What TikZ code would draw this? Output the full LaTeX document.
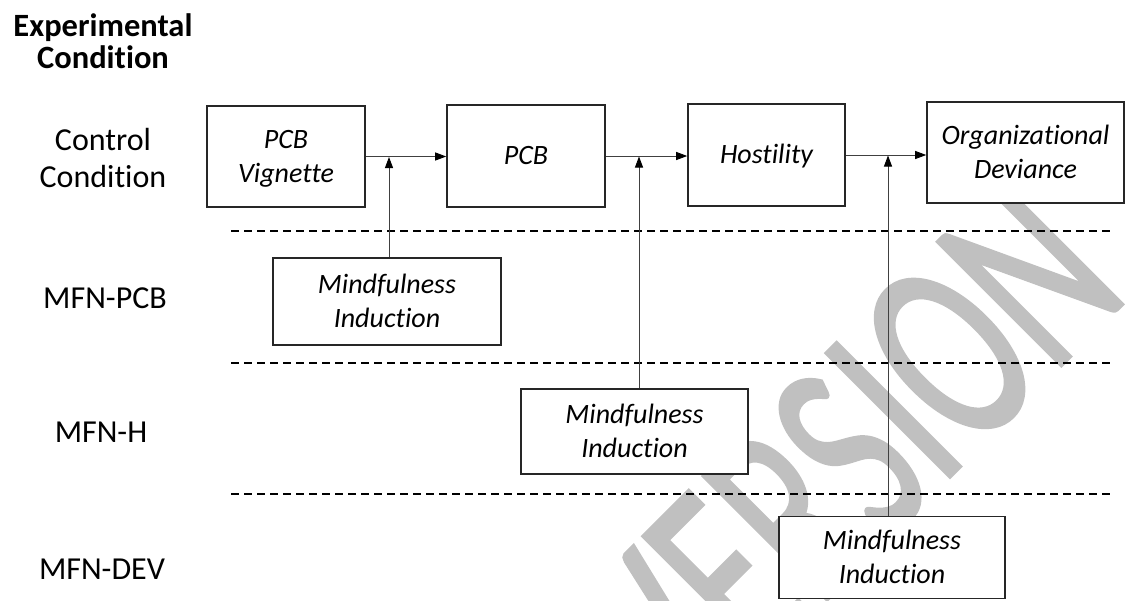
\documentclass[tikz,border=0pt]{standalone}
\usepackage{fontspec}
\setmainfont{Carlito}[Ligatures=NoCommon]
\newfontfamily\wmfont{Carlito}[FakeBold=1.5]
\usepackage{graphicx}
\usetikzlibrary{arrows.meta}
\definecolor{wmcol}{HTML}{C0C0C0}
\definecolor{conncol}{HTML}{404040}
\newcommand\tstrut{\vrule height .76\baselineskip depth .24\baselineskip width 0pt\relax}
\begin{document}
\begin{tikzpicture}[x=1pt,y=-1pt,
  box/.style={draw=black!85, line width=1.6pt, fill=white, align=center, inner sep=0pt,
    font=\fontsize{28}{34}\selectfont\itshape},
  rowlab/.style={align=center, inner sep=0pt, font=\fontsize{32}{37}\selectfont},
  connline/.style={draw=conncol, line width=0.9pt},
  arr/.style={connline, -{Triangle[length=11pt,width=8pt,black]}},
  dashsep/.style={draw=black, line width=1.4pt, dash pattern=on 8pt off 5pt}]
\useasboundingbox (0,0) rectangle (1131,600);
\clip (0,0) rectangle (1131,600);
% watermark
\node[text=wmcol, rotate=45, inner sep=0pt] (wmk) at (848,455)
  {\scalebox{0.64}[1]{\wmfont\fontsize{272}{272}\selectfont VERSION}};
% separators
\draw[dashsep] (231,231) -- (1110,231);
\draw[dashsep] (231,363) -- (1110,363);
\draw[dashsep] (231,494) -- (1110,494);
% row labels
\node[rowlab, font=\fontsize{32.5}{31.7}\selectfont\bfseries] (title) at (103,41) {Experimental\\Condition};
\node[rowlab] (ctrl) at (103,158.3) {Control\\Condition};
\node[rowlab] (mfnpcb) at (105,298) {MFN-PCB};
\node[rowlab] (mfnh) at (101,432) {MFN-H};
\node[rowlab] (mfndev) at (102,569) {MFN-DEV};
% boxes
\node[box, minimum width=158pt, minimum height=101pt] (vig) at (286,156.5) {\tstrut PCB\\Vignette\tstrut};
\node[box, minimum width=158pt, minimum height=102pt] (pcb) at (526,156) {\tstrut PCB\tstrut};
\node[box, minimum width=157pt, minimum height=102pt] (host) at (766.5,155) {\tstrut Hostility\tstrut};
\node[box, minimum width=197pt, minimum height=101pt] (dev) at (1025.5,152.5) {\tstrut Organizational\\Deviance\tstrut};
\node[box, minimum width=228pt, minimum height=87pt] (mi1) at (387,301.5) {\tstrut Mindfulness\\Induction\tstrut};
\node[box, minimum width=227pt, minimum height=85pt] (mi2) at (634.5,431.5) {\tstrut Mindfulness\\Induction\tstrut};
\node[box, minimum width=226pt, minimum height=82pt] (mi3) at (892,557.5) {\tstrut Mindfulness\\Induction\tstrut};
% connectors
\draw[arr] (vig.east) -- (vig.east -| pcb.west);
\draw[arr] (pcb.east) -- (pcb.east -| host.west);
\draw[arr] (host.east) -- (host.east -| dev.west);
\coordinate (j1) at (389,156.5);
\coordinate (j2) at (639,156);
\coordinate (j3) at (888,155);
\draw[arr, shorten >=0.5pt] (j1 |- mi1.north) -- (j1);
\draw[arr, shorten >=0.5pt] (j2 |- mi2.north) -- (j2);
\draw[arr, shorten >=0.5pt] (j3 |- mi3.north) -- (j3);
\end{tikzpicture}
\end{document}
